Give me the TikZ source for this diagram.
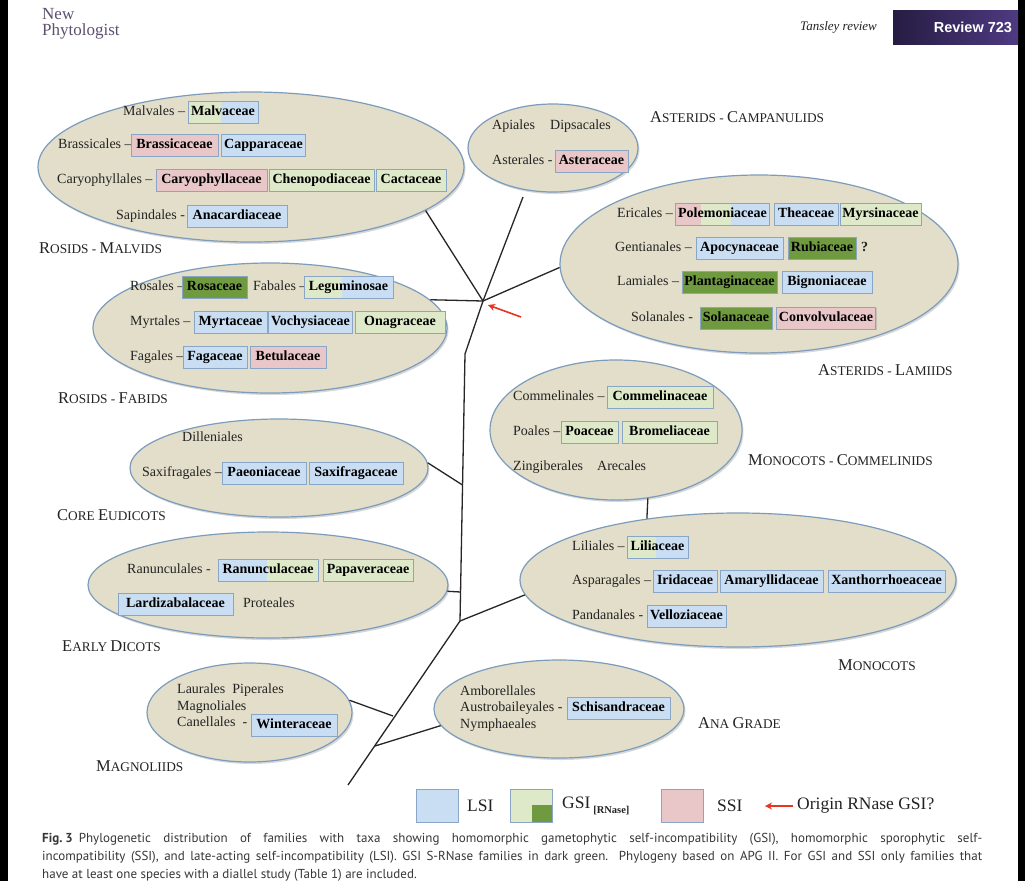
\documentclass[tikz,border=0pt]{standalone}
\usepackage{fontspec}
\setmainfont{Liberation Serif}
\newfontfamily\capfont{PT Sans}
\newfontfamily\boxsans{Liberation Sans}
\usetikzlibrary{shapes.geometric,shadows,arrows.meta}

\definecolor{cladefill}{RGB}{226,222,201}
\definecolor{cladeline}{RGB}{125,156,187}
\definecolor{lsiblue}{RGB}{201,221,243}
\definecolor{gsigreen}{RGB}{221,233,201}
\definecolor{rnasegreen}{RGB}{111,154,63}
\definecolor{ssipink}{RGB}{233,198,200}
\definecolor{boxline}{RGB}{138,166,198}
\definecolor{inktext}{RGB}{35,35,35}
\definecolor{journal}{RGB}{92,80,110}
\definecolor{capgray}{RGB}{55,55,55}
\definecolor{originred}{RGB}{232,52,32}
\definecolor{reviewdark}{RGB}{38,28,66}
\definecolor{reviewmid}{RGB}{78,58,130}

\tikzset{
  clade/.style={ellipse, draw=cladeline, line width=1.2pt, fill=cladefill, inner sep=0pt,
    drop shadow={shadow xshift=1.5pt, shadow yshift=-2pt, opacity=.3}},
  fam/.style={draw=boxline, line width=.8pt, inner xsep=2.5pt, inner ysep=4.5pt,
    text height=10pt, text depth=3pt, font=\fontsize{14}{16}\selectfont\bfseries, text=black,
    drop shadow={shadow xshift=1pt, shadow yshift=-1.2pt, opacity=.3}},
  lsi/.style={fam, fill=lsiblue},
  gsi/.style={fam, fill=gsigreen},
  rnase/.style={fam, fill=rnasegreen},
  ssi/.style={fam, fill=ssipink},
  leftfill/.style 2 args={path picture={\fill[#2] (path picture bounding box.south west)
    rectangle ([xshift=#1]path picture bounding box.north west);}},
  order/.style={anchor=west, inner sep=0pt, text height=10pt, text depth=3pt,
    font=\fontsize{14}{16}\selectfont, text=inktext},
  grp/.style={anchor=west, inner sep=0pt, font=\fontsize{13.3}{15}\selectfont, text=inktext},
  branch/.style={line width=1.3pt, black!85},
  origin/.style={draw=originred, line width=1.6pt, -{Stealth[length=7pt,width=7pt]}},
  legbox/.style={draw=boxline, line width=.8pt, minimum width=42pt, minimum height=33pt, inner sep=0pt},
  legtext/.style={anchor=west, inner sep=0pt, font=\fontsize{17.5}{20}\selectfont, text=inktext},
  captext/.style={anchor=west, inner sep=0pt, font=\capfont\fontsize{13}{15}\selectfont, text=capgray}
}
\newcommand{\bigc}[1]{{\fontsize{16.5}{18}\selectfont #1}}

\begin{document}
\begin{tikzpicture}[x=1pt,y=-1pt]
\useasboundingbox (0,0) rectangle (1025,881);
\fill[white] (0,0) rectangle (1025,881);
\fill[black] (0,0) rectangle (8,881);
\fill[black] (1018,0) rectangle (1025,881);

% header
\node[anchor=west, inner sep=0pt, text=journal, font=\fontsize{17}{18}\selectfont] (journal1) at (42,14) {New};
\node[anchor=west, inner sep=0pt, text=journal, font=\fontsize{17}{18}\selectfont] (journal2) at (42,31) {Phytologist};
\node[anchor=west, inner sep=0pt, text=inktext, font=\itshape\fontsize{13}{15}\selectfont] (series) at (800,27) {Tansley review};
\node[minimum width=125pt, minimum height=34pt, inner sep=0pt, left color=reviewdark, right color=reviewmid,
  path picture={
    \draw[yellow!70!white, line width=2.5pt, opacity=.75] (962,10) -- (984,44);
    \draw[violet!60!white, line width=3pt, opacity=.6] (975,10) -- (1000,44);
    \draw[yellow!80!white, line width=1.5pt, opacity=.6] (990,10) -- (1008,36);
  }] (review) at (955.5,27) {};
\node[anchor=east, inner sep=0pt, text=white, font=\boxsans\bfseries\fontsize{14.5}{16}\selectfont] (reviewtxt) at ([xshift=-6pt]review.east) {Review 723};

% clades
\node[clade, minimum width=426pt, minimum height=150pt] (malv) at (251,167) {};
\node[clade, minimum width=170pt, minimum height=88pt] (camp) at (553,148) {};
\node[clade, minimum width=398pt, minimum height=178pt] (lami) at (759,264) {};
\node[clade, minimum width=354pt, minimum height=130pt] (fabi) at (270,328) {};
\node[clade, minimum width=298pt, minimum height=98pt] (core) at (279,468) {};
\node[clade, minimum width=252pt, minimum height=140pt] (comm) at (616,430) {};
\node[clade, minimum width=360pt, minimum height=106pt] (early) at (268,585) {};
\node[clade, minimum width=436pt, minimum height=134pt] (mono) at (738,580) {};
\node[clade, minimum width=205pt, minimum height=99pt] (magn) at (249.5,712.5) {};
\node[clade, minimum width=250pt, minimum height=98pt] (ana) at (559,709) {};

% tree
\coordinate (hub) at (483,301);
\coordinate (campend) at (523,197);
\coordinate (bend) at (465,354);
\coordinate (corejoin) at (462.5,485);
\coordinate (earlyjoin) at (460.5,592);
\coordinate (monojoin) at (460,621);
\coordinate (magnjoin) at (393,716);
\coordinate (anajoin) at (375,746);
\coordinate (root) at (348,785);
\draw[branch] (malv.-14) -- (hub);
\draw[branch] (campend) -- (hub);
\draw[branch] (fabi.10) -- (hub);
\draw[branch] (hub) -- (lami.181);
\draw[branch] (hub) -- (bend) -- (monojoin) -- (root);
\draw[branch] (core.2) -- (corejoin);
\draw[branch] (early.-2) -- (earlyjoin);
\draw[branch] (monojoin) -- (mono.184);
\draw[branch] (comm.-65.5) -- (mono.146);
\draw[branch] (magn.7) -- (magnjoin);
\draw[branch] (anajoin) -- (ana.188);
\coordinate (arrowtail) at (521,317);
\coordinate (arrowtip) at (488,305);
\draw[origin] (arrowtail) -- (arrowtip);

% rosids - malvids
\node[order] (malvales) at (123,112) {Malvales –};
\node[lsi, minimum width=70pt, leftfill={33pt}{gsigreen}] (malvaceae) at (223,112) {Malvaceae};
\node[order] (brassicales) at (58,145) {Brassicales –};
\node[ssi, minimum width=87pt] (brassicaceae) at (174.5,145) {Brassicaceae};
\node[lsi, minimum width=83pt] (capparaceae) at (263.5,145) {Capparaceae};
\node[order] (caryophyllales) at (57,180) {Caryophyllales –};
\node[ssi, minimum width=111pt] (caryophyllaceae) at (211.5,180) {Caryophyllaceae};
\node[gsi, minimum width=105pt] (chenopodiaceae) at (321.5,180) {Chenopodiaceae};
\node[gsi, minimum width=70pt] (cactaceae) at (411,180) {Cactaceae};
\node[order] (sapindales) at (116,216) {Sapindales -};
\node[lsi, minimum width=100pt] (anacardiaceae) at (237,216) {Anacardiaceae};

% asterids - campanulids
\node[order] (apiales) at (492,126) {Apiales};
\node[order] (dipsacales) at (550,126) {Dipsacales};
\node[order] (asterales) at (492,161) {Asterales -};
\node[ssi, minimum width=73pt] (asteraceae) at (591.5,161) {Asteraceae};

% asterids - lamiids
\node[order] (ericales) at (617,214) {Ericales –};
\node[lsi, minimum width=91pt, path picture={
    \fill[ssipink] (path picture bounding box.south west) rectangle ([xshift=25pt]path picture bounding box.north west);
    \fill[gsigreen] ([xshift=25pt]path picture bounding box.south west) rectangle ([xshift=55pt]path picture bounding box.north west);
  }] (polemoniaceae) at (722.5,214) {Polemoniaceae};
\node[lsi, minimum width=64pt] (theaceae) at (806,214) {Theaceae};
\node[gsi, minimum width=79pt] (myrsinaceae) at (880.5,214) {Myrsinaceae};
\node[order] (gentianales) at (615,248) {Gentianales –};
\node[lsi, minimum width=87pt] (apocynaceae) at (739.5,248) {Apocynaceae};
\node[rnase, minimum width=68pt] (rubiaceae) at (822,248) {Rubiaceae};
\node[order, font=\fontsize{14}{16}\selectfont\bfseries] (rubiaq) at (861,248) {?};
\node[order] (lamiales) at (617,282) {Lamiales –};
\node[rnase, minimum width=95pt] (plantaginaceae) at (729.5,282) {Plantaginaceae};
\node[lsi, minimum width=90pt] (bignoniaceae) at (827,282) {Bignoniaceae};
\node[order] (solanales) at (631,318) {Solanales -};
\node[rnase, minimum width=72pt] (solanaceae) at (736,318) {Solanaceae};
\node[ssi, minimum width=98pt] (convolvulaceae) at (826,318) {Convolvulaceae};

% rosids - fabids
\node[order] (rosales) at (130,287) {Rosales –};
\node[rnase, minimum width=65pt] (rosaceae) at (214.5,287) {Rosaceae};
\node[order] (fabales) at (253,287) {Fabales –};
\node[lsi, minimum width=89pt, leftfill={38pt}{gsigreen}] (leguminosae) at (348.5,287) {Leguminosae};
\node[order] (myrtales) at (130,322) {Myrtales –};
\node[lsi, minimum width=73pt] (myrtaceae) at (230.5,322) {Myrtaceae};
\node[lsi, minimum width=81pt] (vochysiaceae) at (310.5,322) {Vochysiaceae};
\node[gsi, minimum width=90pt] (onagraceae) at (400,322) {Onagraceae};
\node[order] (fagales) at (130,357) {Fagales –};
\node[lsi, minimum width=64pt] (fagaceae) at (215,357) {Fagaceae};
\node[ssi, minimum width=76pt] (betulaceae) at (288,357) {Betulaceae};

% core eudicots
\node[order] (dilleniales) at (182,438) {Dilleniales};
\node[order] (saxifragales) at (142,473) {Saxifragales –};
\node[lsi, minimum width=84pt] (paeoniaceae) at (264,473) {Paeoniaceae};
\node[lsi, minimum width=94pt] (saxifragaceae) at (356,473) {Saxifragaceae};

% early dicots
\node[order] (ranunculales) at (127,570) {Ranunculales -};
\node[gsi, minimum width=100pt, leftfill={49pt}{lsiblue}] (ranunculaceae) at (268,570) {Ranunculaceae};
\node[gsi, minimum width=90pt] (papaveraceae) at (368,570) {Papaveraceae};
\node[lsi, minimum width=115pt] (lardizabalaceae) at (175.5,604) {Lardizabalaceae};
\node[order] (proteales) at (243,604) {Proteales};

% monocots - commelinids
\node[order] (commelinales) at (513,397) {Commelinales –};
\node[gsi, minimum width=106pt] (commelinaceae) at (660,397) {Commelinaceae};
\node[order] (poales) at (513,432) {Poales –};
\node[gsi, minimum width=57pt] (poaceae) at (589.5,432) {Poaceae};
\node[gsi, minimum width=95pt] (bromeliaceae) at (669.5,432) {Bromeliaceae};
\node[order] (zingiberales) at (513,467) {Zingiberales};
\node[order] (arecales) at (597,467) {Arecales};

% monocots
\node[order] (liliales) at (572,547) {Liliales –};
\node[lsi, minimum width=61pt, leftfill={29pt}{gsigreen}] (liliaceae) at (657.5,547) {Liliaceae};
\node[order] (asparagales) at (572,581) {Asparagales –};
\node[lsi, minimum width=64pt] (iridaceae) at (685,581) {Iridaceae};
\node[lsi, minimum width=103pt] (amaryllidaceae) at (771.5,581) {Amaryllidaceae};
\node[lsi, minimum width=117pt] (xanthorrhoeaceae) at (886.5,581) {Xanthorrhoeaceae};
\node[order] (pandanales) at (572,616) {Pandanales -};
\node[lsi, minimum width=79pt] (velloziaceae) at (686.5,616) {Velloziaceae};

% magnoliids
\node[order] (laurales) at (177,690) {Laurales\ \ Piperales};
\node[order] (magnoliales) at (177,707) {Magnoliales};
\node[order] (canellales) at (177,723) {Canellales\ \ -};
\node[lsi, minimum width=86pt] (winteraceae) at (294,725) {Winteraceae};

% ana grade
\node[order] (amborellales) at (460,692) {Amborellales};
\node[order] (austrobaileyales) at (460,708) {Austrobaileyales -};
\node[order] (nymphaeales) at (460,725) {Nymphaeales};
\node[lsi, minimum width=103pt] (schisandraceae) at (618.5,708) {Schisandraceae};

% group labels
\node[grp] (malvlab) at (39,248) {\bigc{R}OSIDS - \bigc{M}ALVIDS};
\node[grp] (fabilab) at (58,398) {\bigc{R}OSIDS - \bigc{F}ABIDS};
\node[grp] (corelab) at (57,515) {\bigc{C}ORE \bigc{E}UDICOTS};
\node[grp] (earlylab) at (62,646) {\bigc{E}ARLY \bigc{D}ICOTS};
\node[grp] (magnlab) at (96,766) {\bigc{M}AGNOLIIDS};
\node[grp] (camplab) at (650,117) {\bigc{A}STERIDS - \bigc{C}AMPANULIDS};
\node[grp] (lamilab) at (818,370) {\bigc{A}STERIDS - \bigc{L}AMIIDS};
\node[grp] (commlab) at (748,460) {\bigc{M}ONOCOTS - \bigc{C}OMMELINIDS};
\node[grp] (monolab) at (838,665) {\bigc{M}ONOCOTS};
\node[grp] (analab) at (698,723) {\bigc{A}NA \bigc{G}RADE};

% legend
\node[legbox, fill=lsiblue] (leglsi) at (437,806) {};
\node[legtext] (leglsitxt) at (467,806) {LSI};
\node[legbox, fill=gsigreen, path picture={\fill[rnasegreen] ([xshift=-20pt]path picture bounding box.south east)
  rectangle ([yshift=18pt]path picture bounding box.south east);}] (leggsi) at (531,806) {};
\node[legtext] (leggsitxt) at (562,806) {GSI\,\raisebox{-5pt}{\fontsize{10.5}{12}\selectfont\bfseries [RNase]}};
\node[legbox, fill=ssipink] (legssi) at (682,806) {};
\node[legtext] (legssitxt) at (717,806) {SSI};
\node[legtext] (legorigin) at (797,806) {Origin RNase GSI?};
\coordinate (legtip) at (765,806);
\draw[origin] ([xshift=-4pt]legorigin.west) -- (legtip);

% caption
\node[captext] (cap1) at (42,839) {\makebox[940pt][s]{\textbf{Fig.\kern3pt 3}\kern6pt Phylogenetic distribution of families with taxa showing homomorphic gametophytic self-incompatibility (GSI), homomorphic sporophytic self-}};
\node[captext] (cap2) at (42,857) {\makebox[940pt][s]{incompatibility (SSI), and late-acting self-incompatibility (LSI). GSI S-RNase families in dark green. Phylogeny based on APG II. For GSI and SSI only families that}};
\node[captext] (cap3) at (42,875) {have at least one species with a diallel study (Table 1) are included.};
\end{tikzpicture}
\end{document}
